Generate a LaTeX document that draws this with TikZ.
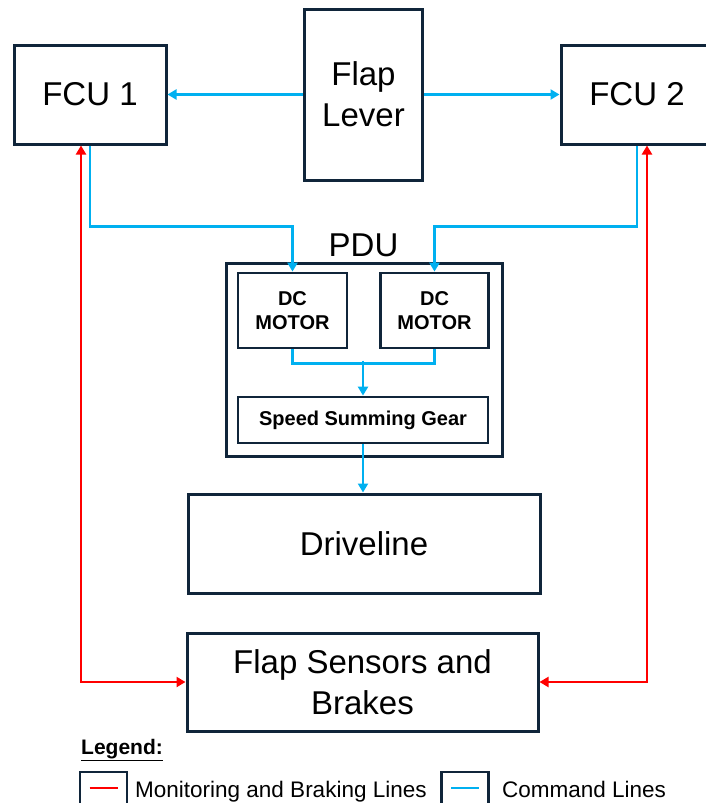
\documentclass[tikz,border=0pt]{standalone}
\usepackage{fontspec}
\setmainfont{Liberation Sans}
\usetikzlibrary{arrows.meta}
\definecolor{boxc}{HTML}{10253A}
\definecolor{cmdc}{HTML}{00B0F0}
\definecolor{monc}{HTML}{FF0000}
\tikzset{
  blk/.style={draw=boxc, line width=3pt, fill=white, inner sep=0pt, align=center,
    font=\fontsize{33}{41}\selectfont},
  smallblk/.style={draw=boxc, line width=2.8pt, fill=white, inner sep=0pt, align=center,
    font=\fontsize{20}{24}\selectfont\bfseries},
  cmdline/.style={draw=cmdc, line width=2.7pt},
  monline/.style={draw=monc, line width=2.7pt},
  tip/.style={-{Triangle[width=10pt,length=9pt]}},
  tips/.style={{Triangle[width=10pt,length=9pt]}-{Triangle[width=10pt,length=9pt]}},
  legtext/.style={anchor=base west, inner sep=0pt, font=\fontsize{22.5}{26}\selectfont},
}
\begin{document}
\begin{tikzpicture}[x=1pt,y=-1pt]
\useasboundingbox (0,0) rectangle (706,803);
% blocks
\node[blk, minimum width=152pt, minimum height=99pt] (fcu1) at (90,94.5) {FCU 1};
\node[blk, minimum width=152pt, minimum height=99pt] (fcu2) at (637,94.5) {FCU 2};
\node[blk, minimum width=118pt, minimum height=171pt] (lever) at (363.5,94.5) {Flap\\Lever};
\node[draw=boxc, line width=3pt, minimum width=276pt, minimum height=193pt, inner sep=0pt] (pdu) at (364,359.5) {};
\node[anchor=south, inner sep=0pt, font=\fontsize{33}{41}\selectfont] (pdulabel) at (363.5,257) {PDU};
\node[smallblk, minimum width=109pt, minimum height=75pt] (m1) at (292.5,310.5) {DC\\MOTOR};
\node[smallblk, minimum width=108pt, minimum height=75pt] (m2) at (434.5,310.5) {DC\\MOTOR};
\node[smallblk, minimum width=250pt, minimum height=46pt] (ssg) at (363,420) {Speed Summing Gear};
\node[blk, minimum width=352pt, minimum height=99pt] (drive) at (364,543.5) {Driveline};
\node[blk, minimum width=351pt, minimum height=98pt] (sens) at (362.5,682) {Flap Sensors and\\Brakes};
% command lines
\draw[cmdline, tip] (lever.west) -- (fcu1.east);
\draw[cmdline, tip] (lever.east) -- (fcu2.west);
\draw[cmdline, tip] (fcu1.south) |- ([yshift=45pt]m1.north) -- (m1.north);
\draw[cmdline, tip] (fcu2.south) |- ([yshift=45pt]m2.north) -- (m2.north);
\draw[cmdline] (m1.south) -- ++(0,14) -| (m2.south);
\draw[cmdline, tip] ([yshift=35pt]ssg.north) -- (ssg.north);
\draw[cmdline, tip] (ssg.south) -- (ssg.south |- drive.north);
% monitoring lines
\draw[monline, tips] ([xshift=-9pt]fcu1.south) |- (sens.west);
\draw[monline, tips] ([xshift=10pt]fcu2.south) |- (sens.east);
% legend
\node[anchor=base west, inner sep=0pt, font=\fontsize{21}{24}\selectfont\bfseries] (legend) at (81,754) {\underline{Legend:}};
\node[draw=boxc, line width=2.6pt, minimum width=47pt, minimum height=36pt, inner sep=0pt] (lb1) at (103.5,790) {};
\node[draw=boxc, line width=2.6pt, minimum width=47pt, minimum height=36pt, inner sep=0pt] (lb2) at (465,790) {};
\draw[monline] ([shift={(-14pt,2pt)}]lb1.center) -- ([shift={(14pt,2pt)}]lb1.center);
\draw[cmdline] ([shift={(-14pt,2pt)}]lb2.center) -- ([shift={(14pt,2pt)}]lb2.center);
\node[legtext] (lt1) at (135,797) {Monitoring and Braking Lines};
\node[legtext] (lt2) at (502,797) {Command Lines};
\end{tikzpicture}
\end{document}
